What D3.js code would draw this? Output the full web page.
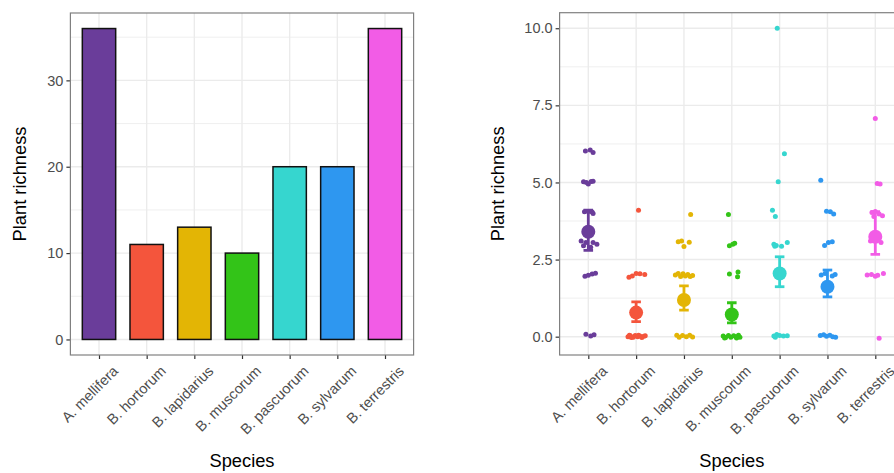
<!DOCTYPE html>
<html>
<head>
<meta charset="utf-8">
<script src="https://cdn.jsdelivr.net/npm/d3@7"></script>
<style>
  html, body { margin: 0; padding: 0; background: #fff; }
  svg { display: block; font-family: "Liberation Sans", Arial, sans-serif; }
</style>
</head>
<body>
<svg id="chart" width="894" height="473"></svg>
<script>
// ---------- data ----------
const species = ["A. mellifera", "B. hortorum", "B. lapidarius", "B. muscorum", "B. pascuorum", "B. sylvarum", "B. terrestris"];
const speciesColors = ["#6a3d9a", "#f4553c", "#e3b505", "#33c418", "#36d6cf", "#2e97f0", "#f25ce6"];
const totalRichness = [36, 11, 13, 10, 20, 20, 36];
const leftYTicks = [0, 10, 20, 30];
const rightYTicks = [0, 2.5, 5, 7.5, 10];
const rightYTickLabels = ["0.0", "2.5", "5.0", "7.5", "10.0"];

// mean richness per individual and error bar limits
const meanRichness = [3.40, 0.78, 1.19, 0.72, 2.05, 1.62, 3.24];
const errLow  = [2.80, 0.49, 0.86, 0.45, 1.62, 1.29, 2.67];
const errHigh = [4.10, 1.13, 1.65, 1.10, 2.59, 2.16, 4.05];

// individual observations: [jitter offset (category units), richness (jittered)]
const ptsMellifera = [[-0.06,6.02],[0.04,6.05],[0.10,5.97],[-0.10,5.02],[-0.04,5.00],[0.00,4.95],[0.06,5.03],[0.10,5.04],
  [-0.08,4.05],[0.00,4.06],[0.08,4.04],[0.10,3.99],[-0.15,3.10],[-0.10,2.95],[0.05,2.90],[0.10,3.05],[0.18,3.00],[-0.05,3.05],
  [-0.07,1.96],[0.00,1.99],[0.08,2.03],[0.15,2.06],[-0.05,0.08],[0.05,0.02],[0.12,0.06]];
const ptsHortorum = [[0.05,4.10],[-0.15,1.93],[-0.08,1.97],[0.00,2.05],[0.08,2.04],[0.18,2.02],
  [-0.17,0.00],[-0.12,0.03],[-0.06,-0.02],[-0.02,0.04],[0.03,0.00],[0.08,0.02],[0.12,-0.03],[0.16,0.01],[0.19,0.03],[-0.10,-0.03],[0.05,0.05],[-0.14,0.05]];
const ptsLapidarius = [[0.14,3.96],[-0.12,3.08],[-0.05,3.10],[0.11,3.06],[0.00,2.92],
  [-0.18,2.00],[-0.12,2.05],[-0.07,1.95],[-0.02,2.04],[0.03,1.97],[0.08,2.02],[0.13,1.95],[0.18,1.98],
  [-0.15,0.05],[-0.10,-0.02],[-0.03,0.04],[0.05,0.00],[0.12,0.05],[0.18,-0.01]];
const ptsMuscorum = [[-0.07,3.96],[-0.05,2.95],[0.02,3.00],[0.06,3.03],[-0.05,2.03],[0.13,2.10],[0.12,1.94],
  [-0.18,0.02],[-0.13,-0.03],[-0.07,0.04],[-0.02,-0.02],[0.04,0.03],[0.09,0.00],[0.14,0.05],[0.17,-0.02],[-0.15,-0.04],[0.10,-0.04]];
const ptsPascuorum = [[-0.05,10.00],[0.10,5.93],[-0.03,5.02],[-0.15,4.10],[-0.09,3.90],
  [-0.12,3.00],[-0.07,2.96],[0.04,2.93],[0.16,3.05],[-0.10,2.93],[-0.08,2.02],[0.06,1.98],
  [-0.12,0.02],[-0.06,0.07],[0.00,0.04],[0.08,0.02],[0.16,0.03],[-0.09,-0.02]];
const ptsSylvarum = [[-0.14,5.07],[-0.02,4.07],[0.06,4.05],[0.13,3.98],[-0.06,2.96],[0.02,3.05],[0.10,3.08],
  [-0.13,2.00],[-0.05,2.05],[0.10,1.97],[0.16,2.02],
  [-0.15,0.04],[-0.08,0.06],[-0.02,0.01],[0.05,0.05],[0.11,0.00],[0.17,-0.02]];
const ptsTerrestris = [[0.00,7.07],[0.04,4.97],[0.10,4.95],[-0.07,4.03],[0.00,4.06],[0.08,3.98],[0.15,3.92],[-0.03,3.90],
  [0.12,3.05],[-0.10,3.10],[-0.17,2.00],[-0.08,2.02],[0.00,1.96],[0.05,1.99],[0.17,2.05],[0.08,-0.05]];
const observations = [ptsMellifera, ptsHortorum, ptsLapidarius, ptsMuscorum, ptsPascuorum, ptsSylvarum, ptsTerrestris];

// ---------- layout ----------
const svg = d3.select("#chart");
svg.append("rect").attr("width", 894).attr("height", 473).attr("fill", "#fff");

const gridCol = "#ebebeb";
const tickTextCol = "#4d4d4d";
const tickFont = 14.5;
const titleFont = 18.3;

function drawPanel(opt) {
  const {x0, x1, y0, y1, yDomain, yTicks, yTickLabels, yMinor, yTitleX} = opt;
  const g = svg.append("g");
  const x = d3.scalePoint().domain(species).range([x0, x1]).padding(0.6);
  const y = d3.scaleLinear().domain(yDomain).range([y1, y0]);

  const clipId = "clip" + Math.round(x0);
  svg.append("clipPath").attr("id", clipId).append("rect")
    .attr("x", x0).attr("y", y0).attr("width", x1 - x0).attr("height", y1 - y0);
  const p = g.append("g").attr("clip-path", `url(#${clipId})`);

  p.selectAll(".ymin").data(yMinor).join("line")
    .attr("x1", x0).attr("x2", x1).attr("y1", d => y(d)).attr("y2", d => y(d))
    .attr("stroke", gridCol).attr("stroke-width", 0.8);
  p.selectAll(".ymaj").data(yTicks).join("line")
    .attr("x1", x0).attr("x2", x1).attr("y1", d => y(d)).attr("y2", d => y(d))
    .attr("stroke", gridCol).attr("stroke-width", 1.4);
  p.selectAll(".xmaj").data(species).join("line")
    .attr("x1", d => x(d)).attr("x2", d => x(d)).attr("y1", y0).attr("y2", y1)
    .attr("stroke", gridCol).attr("stroke-width", 1.4);

  const yAxis = d3.axisLeft(y).tickValues(yTicks).tickSize(4).tickPadding(3)
    .tickFormat((d, i) => yTickLabels[i]);
  const ya = g.append("g").attr("transform", `translate(${x0},0)`).call(yAxis);
  ya.select(".domain").remove();
  ya.selectAll(".tick line").attr("stroke", "#333").attr("stroke-width", 1.2);
  ya.selectAll(".tick text").attr("fill", tickTextCol).attr("font-size", tickFont)
    .attr("font-family", "Liberation Sans, Arial, sans-serif");

  const xAxis = d3.axisBottom(x).tickSize(4).tickFormat("");
  const xa = g.append("g").attr("transform", `translate(0,${y1})`).call(xAxis);
  xa.select(".domain").remove();
  xa.selectAll(".tick line").attr("stroke", "#333").attr("stroke-width", 1.2);

  g.selectAll(".xlab").data(species).join("text")
    .attr("transform", d => `translate(${x(d) + 20},372) rotate(-45)`)
    .attr("text-anchor", "end")
    .attr("font-size", tickFont).attr("fill", tickTextCol)
    .text(d => d);

  g.append("text").attr("x", (x0 + x1) / 2).attr("y", 467).attr("text-anchor", "middle")
    .attr("font-size", titleFont).attr("fill", "#000").text("Species");
  g.append("text").attr("transform", `translate(${yTitleX},${(y0 + y1) / 2}) rotate(-90)`)
    .attr("text-anchor", "middle").attr("font-size", titleFont).attr("fill", "#000")
    .text("Plant richness");

  return {g, p, x, y};
}

// ---------- left panel: bars ----------
const L = drawPanel({
  x0: 70.4, x1: 413.6, y0: 13, y1: 355,
  yDomain: [-1.8, 37.8], yTicks: leftYTicks, yTickLabels: leftYTicks.map(String),
  yMinor: [5, 15, 25, 35], yTitleX: 25.5
});
const bw = L.x.step() * 0.7;
L.p.selectAll(".bar").data(species).join("rect")
  .attr("x", d => L.x(d) - bw / 2)
  .attr("width", bw)
  .attr("y", (d, i) => L.y(totalRichness[i]))
  .attr("height", (d, i) => L.y(0) - L.y(totalRichness[i]))
  .attr("fill", (d, i) => speciesColors[i])
  .attr("stroke", "#111").attr("stroke-width", 1.5);
svg.append("rect").attr("x", 70.4).attr("y", 13).attr("width", 413.6 - 70.4).attr("height", 342)
  .attr("fill", "none").attr("stroke", "#808080").attr("stroke-width", 1.2);

// ---------- right panel: points + mean ± error ----------
const R = drawPanel({
  x0: 559.6, x1: 904, y0: 12.7, y1: 355,
  yDomain: [-0.594, 10.504], yTicks: rightYTicks, yTickLabels: rightYTickLabels,
  yMinor: [1.25, 3.75, 6.25, 8.75], yTitleX: 504
});
const step = R.x.step();
observations.forEach((pts, i) => {
  const cx = R.x(species[i]);
  R.p.selectAll(".pt" + i).data(pts).join("circle")
    .attr("cx", d => cx + d[0] * step)
    .attr("cy", d => R.y(d[1]))
    .attr("r", 2.5)
    .attr("fill", speciesColors[i]);
});
const capHalf = step * 0.1;
species.forEach((s, i) => {
  const cx = R.x(s);
  const col = speciesColors[i];
  R.p.append("line").attr("x1", cx).attr("x2", cx)
    .attr("y1", R.y(errLow[i])).attr("y2", R.y(errHigh[i]))
    .attr("stroke", col).attr("stroke-width", 2.8);
  [errLow[i], errHigh[i]].forEach(v => {
    R.p.append("line").attr("x1", cx - capHalf).attr("x2", cx + capHalf)
      .attr("y1", R.y(v)).attr("y2", R.y(v))
      .attr("stroke", col).attr("stroke-width", 2.8);
  });
  R.p.append("circle").attr("cx", cx).attr("cy", R.y(meanRichness[i])).attr("r", 7).attr("fill", col);
});
svg.append("rect").attr("x", 559.6).attr("y", 12.7).attr("width", 904 - 559.6).attr("height", 355 - 12.7)
  .attr("fill", "none").attr("stroke", "#808080").attr("stroke-width", 1.2);
</script>
</body>
</html>
